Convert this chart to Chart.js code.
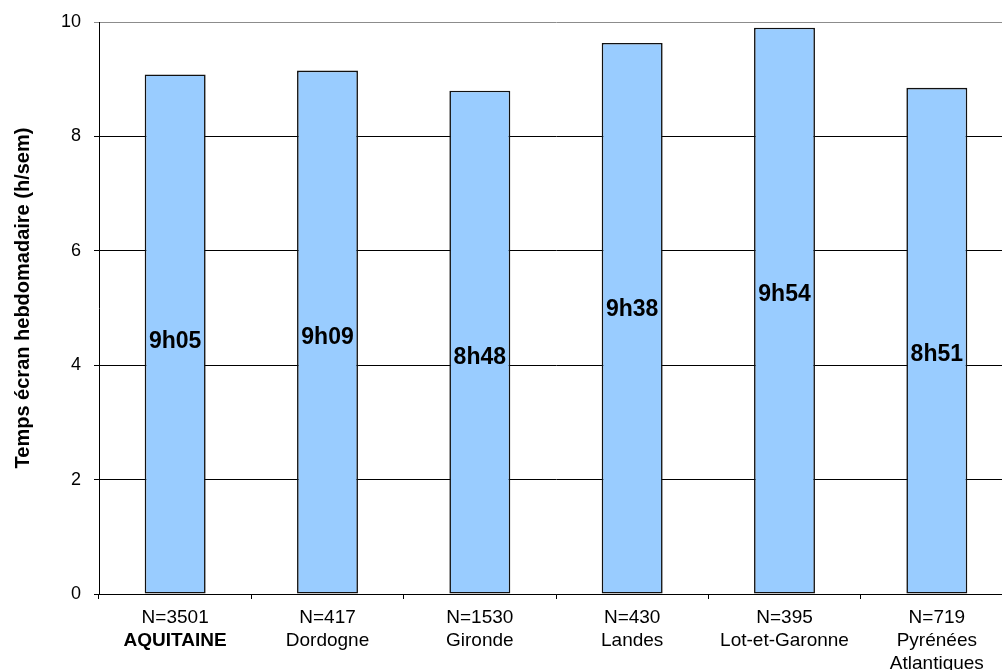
<!DOCTYPE html>
<html lang="fr">
<head>
<meta charset="utf-8">
<title>Temps écran hebdomadaire</title>
<script src="https://cdn.jsdelivr.net/npm/chart.js@4/dist/chart.umd.min.js"></script>
<style>
  html, body { margin: 0; padding: 0; background: #ffffff; }
  #wrap { width: 1002px; height: 670px; overflow: hidden; position: relative; }
  canvas { display: block; }
</style>
</head>
<body>
<div id="wrap"><canvas id="chart" width="1020" height="670"></canvas></div>
<script>
// Départements et effectifs
const regions = ['AQUITAINE', 'Dordogne', 'Gironde', 'Landes', 'Lot-et-Garonne', 'Pyrénées\nAtlantiques'];
const sampleSizes = [3501, 417, 1530, 430, 395, 719];

// Temps écran hebdomadaire moyen : heures et minutes
const hoursPart = [9, 9, 8, 9, 9, 8];
const minutesPart = [5, 9, 48, 38, 54, 51];

// Graduations de l'axe vertical
const yTicks = [0, 2, 4, 6, 8, 10];
const yTitle = 'Temps écran hebdomadaire (h/sem)';

const weeklyHours = hoursPart.map((h, i) => h + minutesPart[i] / 60);
const timeLabels = hoursPart.map((h, i) => h + 'h' + String(minutesPart[i]).padStart(2, '0'));

const FONT = "'Liberation Sans', Arial, Helvetica, sans-serif";

// Titre vertical de l'axe des ordonnées
const axisTitle = {
  id: 'axisTitle',
  afterDraw(chart) {
    const ctx = chart.ctx;
    const area = chart.chartArea;
    ctx.save();
    ctx.translate(23, (area.top + area.bottom) / 2 - 10);
    ctx.rotate(-Math.PI / 2);
    ctx.fillStyle = '#000';
    ctx.font = 'bold 20px ' + FONT;
    ctx.textAlign = 'center';
    ctx.textBaseline = 'middle';
    ctx.fillText(yTitle, 0, 0);
    ctx.restore();
  }
};

// Étiquettes de catégories sur deux lignes (N= puis nom), le total régional en gras
const categoryLabels = {
  id: 'categoryLabels',
  afterDraw(chart) {
    const ctx = chart.ctx;
    const xs = chart.scales.x;
    const base = chart.chartArea.bottom;
    ctx.save();
    ctx.fillStyle = '#000';
    ctx.textAlign = 'center';
    ctx.textBaseline = 'alphabetic';
    regions.forEach((name, i) => {
      const x = xs.getPixelForValue(i);
      ctx.font = '19px ' + FONT;
      ctx.fillText('N=' + sampleSizes[i], x, base + 29);
      const lines = name.split('\n');
      ctx.font = (i === 0 ? 'bold ' : '') + '19px ' + FONT;
      lines.forEach((ln, k) => ctx.fillText(ln, x, base + 52 + k * 23));
    });
    ctx.restore();
  }
};

// Valeurs inscrites dans les barres
const valueLabels = {
  id: 'valueLabels',
  afterDatasetsDraw(chart) {
    const ctx = chart.ctx;
    const meta = chart.getDatasetMeta(0);
    ctx.save();
    ctx.fillStyle = '#000';
    ctx.font = 'bold 23px ' + FONT;
    ctx.textAlign = 'center';
    ctx.textBaseline = 'middle';
    meta.data.forEach((bar, i) => {
      ctx.fillText(timeLabels[i], bar.x, bar.y + 267);
    });
    ctx.restore();
  }
};

new Chart(document.getElementById('chart'), {
  type: 'bar',
  data: {
    labels: regions,
    datasets: [{
      data: weeklyHours,
      backgroundColor: '#99ccff',
      borderColor: '#111111',
      borderWidth: 1.6,
      borderSkipped: false,
      categoryPercentage: 1,
      barPercentage: 0.4
    }]
  },
  options: {
    responsive: false,
    animation: false,
    devicePixelRatio: 1,
    layout: { padding: { top: 21, right: 7, left: 0, bottom: 0 } },
    plugins: {
      legend: { display: false },
      tooltip: { enabled: false }
    },
    scales: {
      x: {
        type: 'category',
        offset: true,
        grid: {
          offset: true,
          drawOnChartArea: false,
          drawTicks: true,
          tickLength: 5,
          color: '#000',
          lineWidth: 1
        },
        border: { display: true, color: '#000', width: 1 },
        ticks: { display: false },
        afterFit(scale) { scale.height = 76; }
      },
      y: {
        min: 0,
        max: 10,
        afterBuildTicks(scale) { scale.ticks = yTicks.map(v => ({ value: v })); },
        grid: {
          drawTicks: true,
          tickLength: 5,
          lineWidth: 1,
          color: ctx => (ctx.tick && ctx.tick.value === 10) ? '#8c8c8c' : '#000'
        },
        border: { display: true, color: '#000', width: 1 },
        ticks: {
          color: '#000',
          padding: 13,
          font: { family: FONT, size: 18, lineHeight: 1 }
        },
        title: { display: false },
        afterFit(scale) { scale.width = 99; }
      }
    }
  },
  plugins: [valueLabels, categoryLabels, axisTitle]
});
</script>
</body>
</html>
